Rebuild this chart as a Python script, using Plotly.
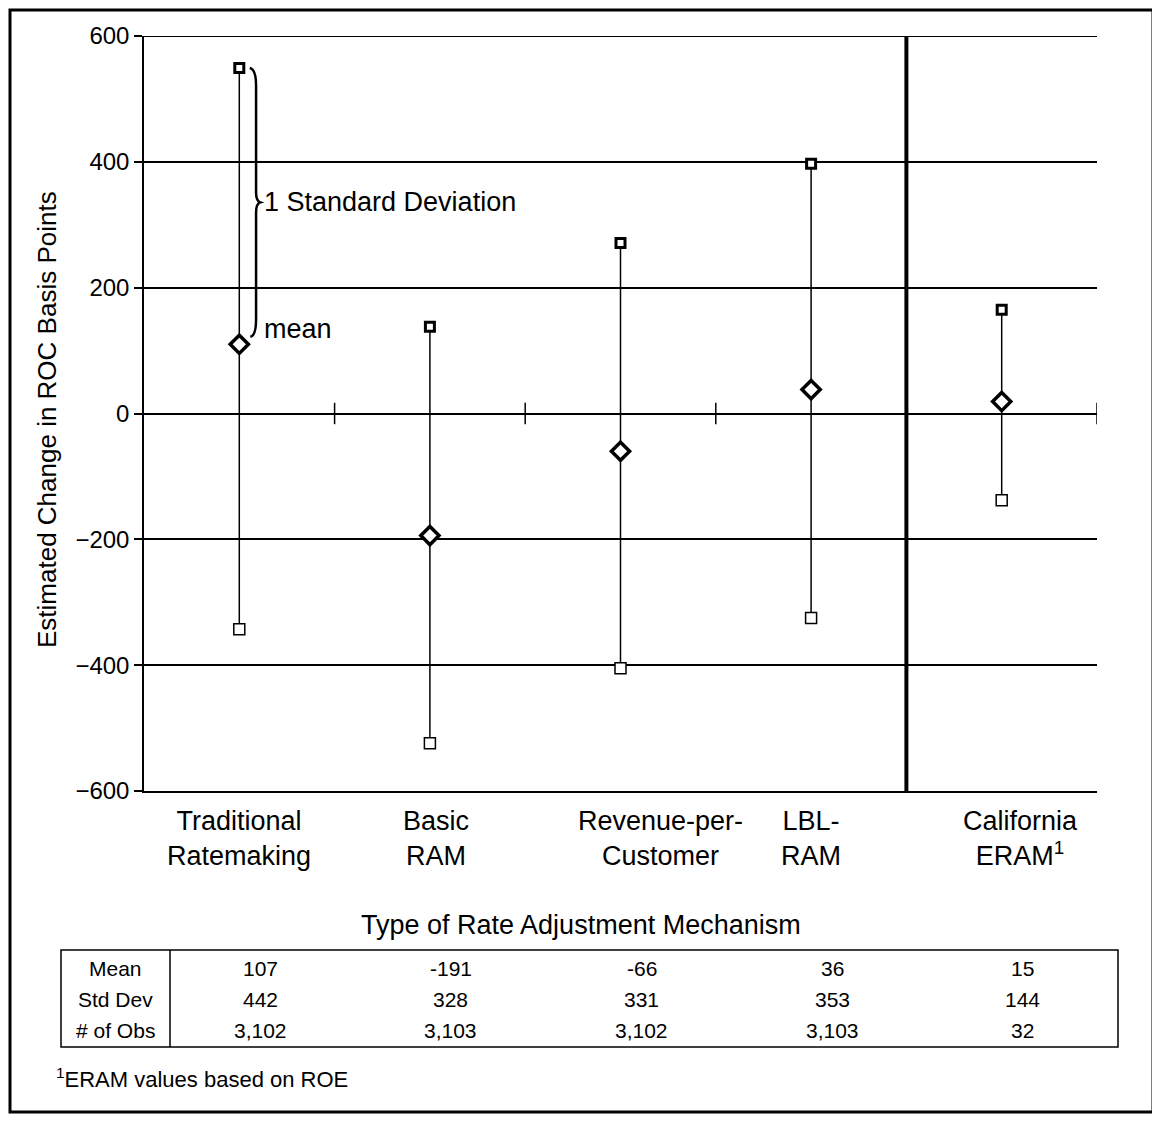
import plotly.graph_objects as go

# ---------------- data ----------------
categories = ["Traditional<br>Ratemaking", "Basic<br>RAM", "Revenue-per-<br>Customer",
              "LBL-<br>RAM", "California<br>ERAM<sup>1</sup>"]
mean_pts = [110, -194, -60, 38, 19]        # plotted mean
upper_pts = [549, 138, 271, 397, 165]      # mean + 1 sd
lower_pts = [-343, -524, -405, -325, -138] # mean - 1 sd

row_labels = ["Mean", "Std Dev", "# of Obs"]
table_mean = ["107", "-191", "-66", "36", "15"]
table_sd = ["442", "328", "331", "353", "144"]
table_obs = ["3,102", "3,103", "3,102", "3,103", "32"]

y_ticks = [-600, -400, -200, 0, 200, 400, 600]
label_shift = [0, 6, 40, 0, 19]            # pixel offsets of category labels
FONT = "Liberation Sans, Arial, Helvetica, sans-serif"

xs = list(range(len(categories)))

# plot-area geometry in reference-picture pixels; page is offset by 8px (body margin)
OFF = 8
L, R, T, B = 144, 1097, 36, 791
W, H = R - L, B - T
def px(xp):
    return (xp - L) / W
def py(yp):
    return (B - yp) / H

fig = go.Figure()

# vertical range lines
lx, ly = [], []
for i in xs:
    lx += [i, i, None]
    ly += [lower_pts[i], upper_pts[i], None]
fig.add_trace(go.Scatter(x=lx, y=ly, mode="lines",
                         line=dict(color="black", width=1.5),
                         hoverinfo="skip", showlegend=False))
# lower markers (open squares)
fig.add_trace(go.Scatter(x=xs, y=lower_pts, mode="markers",
                         marker=dict(symbol="square", size=11, color="white",
                                     line=dict(color="black", width=1.5)),
                         showlegend=False))
# upper markers (heavy squares)
fig.add_trace(go.Scatter(x=xs, y=upper_pts, mode="markers",
                         marker=dict(symbol="square", size=9, color="white",
                                     line=dict(color="black", width=3)),
                         showlegend=False))
# mean markers (diamonds)
fig.add_trace(go.Scatter(x=xs, y=mean_pts, mode="markers",
                         marker=dict(symbol="diamond", size=14, color="white",
                                     line=dict(color="black", width=3.5)),
                         showlegend=False))

shapes = []
# top grid line at 600
shapes.append(dict(type="line", xref="paper", yref="y", x0=0, x1=1, y0=600, y1=600,
                   line=dict(color="black", width=2)))
# tick marks on zero line at category boundaries
for i in xs:
    if i == 3:
        continue
    shapes.append(dict(type="line", xref="x", yref="y", x0=i + 0.5, x1=i + 0.5,
                       y0=-17, y1=17, line=dict(color="black", width=1.5)))
# thick separator before California
shapes.append(dict(type="line", xref="x", yref="y", x0=3.5, x1=3.5, y0=-600, y1=600,
                   line=dict(color="black", width=4)))
# curly brace next to first category
top = upper_pts[0]
bot = mean_pts[0] + 12
mid = (top + bot) / 2
brace = (f"M 0.055,{top} Q 0.088,{top-2} 0.088,{top-28} "
         f"L 0.088,{mid+16} Q 0.088,{mid+2} 0.110,{mid} "
         f"Q 0.088,{mid-2} 0.088,{mid-16} "
         f"L 0.088,{bot+28} Q 0.088,{bot+2} 0.058,{bot}")
shapes.append(dict(type="path", xref="x", yref="y", path=brace,
                   line=dict(color="black", width=2.5)))
# table box
shapes.append(dict(type="rect", xref="paper", yref="paper",
                   x0=px(61), x1=px(1118), y0=py(1047), y1=py(950),
                   line=dict(color="black", width=1.5)))
shapes.append(dict(type="line", xref="paper", yref="paper",
                   x0=px(170), x1=px(170), y0=py(1047), y1=py(950),
                   line=dict(color="black", width=1.5)))
# outer frame
shapes.append(dict(type="rect", xref="paper", yref="paper",
                   x0=px(10), x1=px(1153), y0=py(1112), y1=py(10),
                   line=dict(color="black", width=3)))

ann = []
def text_ann(**kw):
    base = dict(showarrow=False, xanchor="center", yanchor="middle")
    base.update(kw)
    ann.append(base)

# category labels
for i, c in enumerate(categories):
    text_ann(x=i, xref="x", y=py(838), yref="paper", text=c, xshift=label_shift[i],
             font=dict(size=27, color="black", family=FONT))
text_ann(x=px(581), y=py(925), xref="paper", yref="paper",
         text="Type of Rate Adjustment Mechanism",
         font=dict(size=27, color="black", family=FONT))
# y title
text_ann(x=px(47), y=py(420), xref="paper", yref="paper",
         text="Estimated Change in ROC Basis Points", textangle=-90,
         font=dict(size=26, color="black", family=FONT))
# brace labels
text_ann(x=0.12, y=mid, xref="x", yref="y", text="1 Standard Deviation",
         xanchor="left", font=dict(size=27, color="black", family=FONT))
text_ann(x=0.12, y=mean_pts[0] + 25, xref="x", yref="y", text="mean",
         xanchor="left", font=dict(size=27, color="black", family=FONT))
# table
row_y = [968, 999, 1030]
rows = [table_mean, table_sd, table_obs]
for r, lab in enumerate(row_labels):
    text_ann(x=px(115), y=py(row_y[r]), xref="paper", yref="paper", text=lab,
             font=dict(size=21, color="black", family=FONT))
    for i, v in enumerate(rows[r]):
        text_ann(x=i, xref="x", xshift=21, y=py(row_y[r]), yref="paper", text=v,
                 font=dict(size=21, color="black", family=FONT))
# footnote
text_ann(x=px(54), y=py(1078), xref="paper", yref="paper",
         text="<sup>1</sup>ERAM values based on ROE", xanchor="left",
         font=dict(size=22, color="black", family=FONT))

fig.update_layout(
    width=1160, height=1121,
    margin=dict(l=L - OFF, r=1160 - (R - OFF), t=T - OFF, b=1121 - (B - OFF)),
    paper_bgcolor="white", plot_bgcolor="white",
    font=dict(family=FONT, color="black"),
    showlegend=False,
    shapes=shapes, annotations=ann,
    xaxis=dict(range=[-0.5, 4.5], showticklabels=False, showgrid=False,
               zeroline=False, showline=True, linecolor="black", linewidth=2,
               ticks=""),
    yaxis=dict(range=[-600, 600], tickvals=y_ticks, showgrid=True,
               gridcolor="black", gridwidth=2, zeroline=True,
               zerolinecolor="black", zerolinewidth=1.5, showline=True,
               linecolor="black", linewidth=1.5, ticks="outside", ticklen=8,
               tickwidth=1.5, tickcolor="black",
               tickfont=dict(size=24, color="black", family=FONT)),
)

fig.write_html("out.html")
